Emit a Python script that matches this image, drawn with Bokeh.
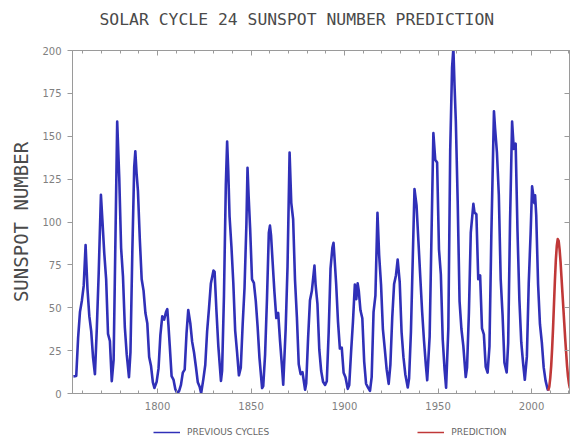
from bokeh.plotting import figure
from bokeh.layouts import column
from bokeh.models import Range1d, LinearAxis, Legend, LegendItem, FixedTicker
from bokeh.core.properties import value
from bokeh.embed import file_html
from bokeh.resources import INLINE

TITLE = "SOLAR CYCLE 24 SUNSPOT NUMBER PREDICTION"
Y_LABEL = "SUNSPOT NUMBER"
SERIES_NAMES = ["PREVIOUS CYCLES", "PREDICTION"]

# Smoothed sunspot numbers, previous cycles (year, value)
prev_years = [1755.0, 1756.5, 1757.5, 1758.5, 1759.5, 1760.5, 1761.5, 1762.5, 1763.5, 1764.5, 1765.5,
              1766.5, 1767.5, 1768.5, 1769.7, 1770.5, 1771.5, 1772.5, 1773.5, 1774.5,
              1775.5, 1776.5, 1777.5, 1778.4, 1779.5, 1780.5, 1781.5, 1782.5, 1783.5,
              1784.7, 1785.5, 1786.5, 1787.5, 1788.1, 1788.8, 1789.5, 1790.5, 1791.5, 1792.5, 1793.5, 1794.5, 1795.5, 1796.5, 1797.5,
              1798.3, 1799.5, 1800.5, 1801.5, 1802.5, 1803.5, 1804.5, 1805.2, 1805.8, 1806.5, 1807.5, 1808.5, 1809.5,
              1810.6, 1811.5, 1812.5, 1813.5, 1814.5, 1815.5, 1816.4, 1817.5, 1818.5, 1819.5, 1820.5, 1821.5, 1822.5,
              1823.3, 1824.5, 1825.5, 1826.5, 1827.5, 1828.5, 1829.9, 1830.5, 1831.5, 1832.5,
              1833.9, 1834.5, 1835.5, 1836.5, 1837.2, 1837.8, 1838.5, 1839.5, 1840.5, 1841.5, 1842.5,
              1843.5, 1844.5, 1845.5, 1846.5, 1847.5, 1848.1, 1848.7, 1849.5, 1850.5, 1851.5, 1852.5, 1853.5, 1854.5,
              1855.9, 1856.5, 1857.5, 1858.5, 1859.5, 1860.1, 1860.7, 1861.5, 1862.5, 1863.5, 1864.5, 1865.5, 1866.5,
              1867.2, 1868.5, 1869.5, 1870.6, 1871.5, 1872.5, 1873.5, 1874.5, 1875.5, 1876.5, 1877.5,
              1878.9, 1879.5, 1880.5, 1881.5, 1882.5, 1883.9, 1884.5, 1885.5, 1886.5, 1887.5, 1888.5,
              1889.6, 1890.5, 1891.5, 1892.5, 1893.5, 1894.1, 1894.7, 1895.5, 1896.5, 1897.5, 1898.5, 1899.5, 1900.5,
              1901.7, 1902.5, 1903.5, 1904.5, 1905.5, 1906.3, 1907.0, 1907.6, 1908.5, 1909.5, 1910.5, 1911.5, 1912.5,
              1913.6, 1914.5, 1915.5, 1916.5, 1917.6, 1918.5, 1919.5, 1920.5, 1921.5, 1922.5,
              1923.6, 1924.5, 1925.5, 1926.5, 1927.5, 1928.4, 1929.5, 1930.5, 1931.5, 1932.5,
              1933.8, 1934.5, 1935.5, 1936.5, 1937.4, 1938.5, 1939.5, 1940.5, 1941.5, 1942.5, 1943.5,
              1944.2, 1945.5, 1946.5, 1947.5, 1948.5, 1949.5, 1950.5, 1951.5, 1952.5, 1953.5,
              1954.3, 1955.5, 1956.5, 1957.5, 1958.2, 1958.8, 1959.5, 1960.5, 1961.5, 1962.5, 1963.5,
              1964.8, 1965.5, 1966.5, 1967.5, 1968.9, 1969.5, 1970.5, 1971.5, 1972.5, 1973.5, 1974.5, 1975.5,
              1976.5, 1977.5, 1978.5, 1979.9, 1980.5, 1981.5, 1982.5, 1983.5, 1984.5, 1985.5,
              1986.7, 1987.5, 1988.5, 1989.6, 1990.5, 1991.5, 1992.5, 1993.5, 1994.5, 1995.5,
              1996.4, 1997.5, 1998.5, 1999.5, 2000.3, 2001.5, 2001.9, 2002.5, 2003.5, 2004.5, 2005.5, 2006.5, 2007.5, 2008.5,
              2008.9]
prev_ssn = [10.0, 10.2, 32.4, 47.6, 54.0, 62.9, 86.5, 61.2, 45.1, 36.4, 20.9,
            11.2, 37.8, 69.8, 115.8, 100.8, 81.6, 66.5, 34.8, 30.6,
            7.2, 19.8, 92.5, 158.5, 125.9, 84.8, 68.1, 38.5, 22.8,
            9.5, 24.1, 82.9, 132.0, 141.2, 128.0, 118.1, 89.9, 66.6, 60.0, 46.9, 41.0, 21.3, 16.0, 6.4,
            3.2, 6.8, 14.5, 34.0, 45.0, 43.1, 47.5, 49.2, 40.0, 28.1, 10.1, 8.1, 2.5,
            0.0, 1.4, 5.0, 12.2, 13.9, 35.4, 48.7, 41.0, 30.1, 23.9, 15.6, 6.6, 4.0,
            0.1, 8.5, 16.6, 36.3, 49.6, 64.2, 71.7, 70.9, 47.8, 27.5,
            7.3, 13.2, 56.9, 121.5, 146.9, 130.0, 103.2, 85.7, 64.6, 36.7, 24.2,
            10.6, 15.0, 40.1, 61.5, 98.5, 131.6, 115.0, 96.3, 66.6, 64.5, 54.1, 39.0, 20.6,
            3.2, 4.3, 22.7, 54.8, 93.8, 97.9, 92.0, 77.2, 59.1, 44.0, 47.0, 30.5, 16.3,
            5.2, 37.6, 74.0, 140.5, 111.2, 101.6, 66.2, 44.7, 17.0, 11.3, 12.4,
            2.2, 6.0, 32.3, 54.3, 59.7, 74.6, 63.5, 52.2, 25.4, 13.1, 6.8,
            5.0, 7.1, 35.6, 73.0, 85.1, 87.9, 78.0, 64.0, 41.8, 26.2, 26.7, 12.1, 9.5,
            2.7, 5.0, 24.4, 42.0, 63.5, 55.0, 64.2, 60.0, 48.5, 43.9, 18.6, 5.7, 3.6,
            1.5, 9.6, 47.4, 57.1, 105.4, 80.6, 63.6, 37.6, 26.1, 14.2,
            5.6, 16.7, 44.3, 63.9, 69.0, 78.1, 64.9, 35.7, 21.2, 11.1,
            3.5, 8.7, 36.1, 79.7, 119.2, 109.6, 88.8, 67.8, 47.5, 30.6, 16.3,
            7.7, 33.2, 92.6, 151.8, 136.3, 134.7, 83.9, 69.4, 31.5, 13.9,
            3.4, 38.0, 141.7, 190.2, 201.3, 180.0, 159.0, 112.3, 53.9, 37.6, 27.9,
            9.6, 15.1, 47.0, 93.8, 110.6, 105.5, 104.5, 66.6, 68.9, 38.0, 34.5, 15.5,
            12.2, 27.5, 92.5, 164.5, 154.6, 140.4, 115.9, 66.6, 45.9, 17.9,
            12.3, 29.4, 100.2, 158.5, 142.6, 145.7, 94.3, 54.6, 29.9, 17.5,
            8.0, 21.5, 64.3, 93.3, 120.8, 111.0, 115.6, 104.0, 63.7, 40.4, 29.8, 15.2, 7.5, 2.9,
            1.7]

# Cycle 24 prediction
pred_years = [2008.9, 2009.5, 2010.0, 2010.5, 2011.0, 2011.5, 2012.0, 2012.5, 2013.0, 2013.5, 2014.0,
              2014.5, 2015.0, 2015.5, 2016.0, 2016.5, 2017.0, 2017.5, 2018.0, 2018.5, 2019.0, 2019.5,
              2020.0, 2020.5]
pred_ssn = [1.7, 4.0, 9.0, 16.0, 26.0, 38.0, 52.0, 66.0, 78.0, 86.0, 90.0,
            89.0, 84.0, 77.0, 68.0, 59.0, 50.0, 41.0, 32.0, 24.0, 16.0, 10.0,
            6.0, 3.0]

y_ticks = [0, 25, 50, 75, 100, 125, 150, 175, 200]
x_ticks = [1800, 1850, 1900, 1950, 2000]
x_minor = list(range(1760, 2021, 10))

AXIS_GRAY = "#9a9a9a"
TEXT_DARK = "#4a4a4a"
BLUE = "#3030b8"
RED = "#c03838"
W = 573
FRAME_L, FRAME_R = 72, 569   # frames of the stacked figures are aligned by the column

# ---------- title strip ----------
tf = figure(width=W, height=36, output_backend="svg", toolbar_location=None,
            x_range=Range1d(FRAME_L, FRAME_R), y_range=Range1d(0, 36),
            x_axis_type=None, y_axis_type=None,
            min_border_left=0, min_border_right=0, min_border_top=0, min_border_bottom=0,
            outline_line_color=None, background_fill_color="white", border_fill_color="white")
tf.xgrid.visible = False
tf.ygrid.visible = False
tf.text(x=[99], y=[17.5], text=[TITLE], text_font=value("DejaVu Sans Mono"),
        text_font_size="16.4px", text_color=TEXT_DARK, text_align="left", text_baseline="middle")

# ---------- main chart ----------
p = figure(width=W, height=379, output_backend="svg", toolbar_location=None,
           x_range=Range1d(1754.5, 2020.3), y_range=Range1d(0, 200),
           x_axis_type=None, y_axis_type=None,
           min_border_left=FRAME_L, min_border_right=W - FRAME_R, min_border_top=14, min_border_bottom=22,
           background_fill_color="white", border_fill_color="white",
           outline_line_color=AXIS_GRAY)
p.xgrid.visible = False
p.ygrid.visible = False


def style_axis(ax):
    ax.axis_line_color = AXIS_GRAY
    ax.major_tick_line_color = AXIS_GRAY
    ax.minor_tick_line_color = AXIS_GRAY
    ax.major_label_text_color = "#808080"
    ax.major_label_text_font = "DejaVu Sans"
    ax.major_label_text_font_size = "10px"


def blank_labels(ax, ticks):
    ax.major_label_overrides = {t: "" for t in ticks}
    ax.major_label_standoff = 0


yl = LinearAxis(ticker=FixedTicker(ticks=y_ticks, minor_ticks=[]))
style_axis(yl)
yl.major_tick_out = 5
yl.major_tick_in = 0
yl.major_label_standoff = 6
yl.axis_label = Y_LABEL
yl.axis_label_text_font = "DejaVu Sans Mono"
yl.axis_label_text_font_size = "19px"
yl.axis_label_text_font_style = "normal"
yl.axis_label_text_color = TEXT_DARK
yl.axis_label_standoff = 7
p.add_layout(yl, "left")

xb = LinearAxis(ticker=FixedTicker(ticks=x_ticks, minor_ticks=x_minor))
style_axis(xb)
xb.major_tick_out = 0
xb.major_tick_in = 5
xb.minor_tick_out = 0
xb.minor_tick_in = 3
xb.major_label_standoff = 8
p.add_layout(xb, "below")

xt = LinearAxis(ticker=FixedTicker(ticks=x_ticks, minor_ticks=x_minor))
style_axis(xt)
xt.major_tick_out = 0
xt.major_tick_in = 5
xt.minor_tick_out = 0
xt.minor_tick_in = 3
blank_labels(xt, x_ticks)
p.add_layout(xt, "above")

yr = LinearAxis(ticker=FixedTicker(ticks=y_ticks, minor_ticks=[]))
style_axis(yr)
yr.major_tick_out = 0
yr.major_tick_in = 5
blank_labels(yr, y_ticks)
p.add_layout(yr, "right")

p.line(prev_years, prev_ssn, line_color=BLUE, line_width=2.6, line_join="round")
p.line(pred_years, pred_ssn, line_color=RED, line_width=2.6, line_join="round")

# ---------- legend strip ----------
lf = figure(width=W, height=22, output_backend="svg", toolbar_location=None,
            x_range=Range1d(0, 1), y_range=Range1d(0, 1),
            x_axis_type=None, y_axis_type=None,
            min_border_left=0, min_border_right=0, min_border_top=0, min_border_bottom=0,
            outline_line_color=None, background_fill_color="white", border_fill_color="white")
lf.xgrid.visible = False
lf.ygrid.visible = False
nan = float("nan")
lr_prev = lf.line(x=[nan, nan], y=[nan, nan], line_color=BLUE, line_width=1.5)
lr_pred = lf.line(x=[nan, nan], y=[nan, nan], line_color=RED, line_width=1.5)
legend = Legend(items=[LegendItem(label=SERIES_NAMES[0], renderers=[lr_prev]),
                       LegendItem(label=SERIES_NAMES[1], renderers=[lr_pred])],
                orientation="horizontal", location=(153 - FRAME_L, 0),
                spacing=148, padding=0, margin=0,
                glyph_width=27, glyph_height=10, label_height=10, label_standoff=7,
                label_text_font="DejaVu Sans", label_text_font_size="9px",
                label_text_color="#666666",
                border_line_color=None, background_fill_alpha=0)
lf.add_layout(legend, "center")

layout = column(tf, p, lf, spacing=0)
open("out.html", "w").write(file_html(layout, INLINE))
